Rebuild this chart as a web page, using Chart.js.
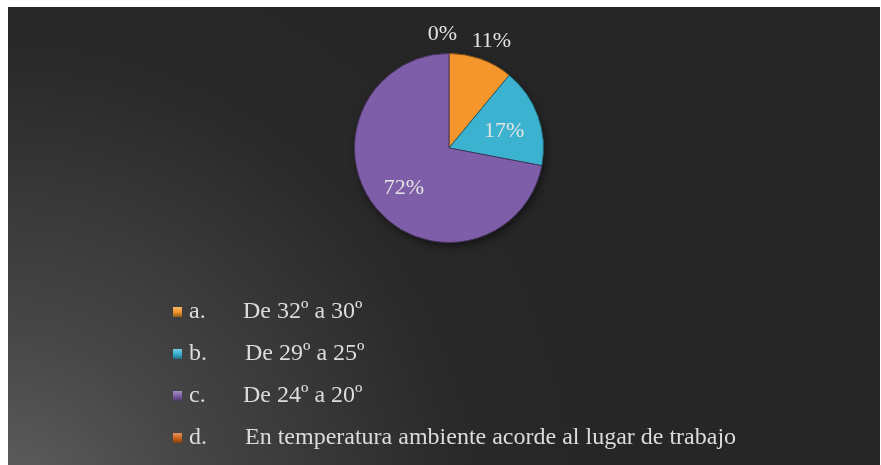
<!DOCTYPE html>
<html>
<head>
<meta charset="utf-8">
<script src="https://cdn.jsdelivr.net/npm/chart.js@4"></script>
<style>
  html, body { margin: 0; padding: 0; background: #fff; }
  #wrap { width: 881px; height: 465px; }
</style>
</head>
<body>
<div id="wrap"><canvas id="myChart" width="881" height="465"></canvas></div>
<script>
const letters = ['a.', 'b.', 'c.', 'd.'];
const categories = [
  'De 32º a 30º',
  'De 29º a 25º',
  'De 24º a 20º',
  'En temperatura ambiente acorde al lugar de trabajo',
];
const values = [11, 17, 72, 0];
const colors = ['#f4962c', '#3bb2cf', '#7f5ea9', '#d0641c'];

const ctx = document.getElementById('myChart');

// shade a hex colour by a factor (>1 lighter, <1 darker)
function shade(hex, f) {
  const n = parseInt(hex.slice(1), 16);
  const c = [(n >> 16) & 255, (n >> 8) & 255, n & 255].map((v) =>
    Math.max(0, Math.min(255, Math.round(f > 1 ? v + (255 - v) * (f - 1) : v * f)))
  );
  return `rgb(${c[0]},${c[1]},${c[2]})`;
}

const background = {
  id: 'background',
  beforeDraw(chart) {
    const c = chart.ctx;
    c.save();
    c.fillStyle = '#ffffff';
    c.fillRect(0, 0, chart.width, chart.height);
    const g = c.createRadialGradient(0, 520, 0, 0, 520, 620);
    g.addColorStop(0, '#626262');
    g.addColorStop(0.3, '#474747');
    g.addColorStop(0.75, '#292929');
    g.addColorStop(1, '#262626');
    c.fillStyle = g;
    c.fillRect(8, 7, 872, 458);
    c.restore();
  },
  beforeDatasetsDraw(chart) {
    // soft shadow under the pie
    const arc = chart.getDatasetMeta(0).data[0];
    if (!arc) return;
    const c = chart.ctx;
    c.save();
    c.shadowColor = 'rgba(0,0,0,0.6)';
    c.shadowBlur = 10;
    c.shadowOffsetX = 2;
    c.shadowOffsetY = 4;
    c.fillStyle = '#262626';
    c.beginPath();
    c.arc(arc.x, arc.y, arc.outerRadius - 1, 0, Math.PI * 2);
    c.fill();
    c.restore();
  },
};

const pctLabels = {
  id: 'pctLabels',
  afterDatasetsDraw(chart) {
    const c = chart.ctx;
    const meta = chart.getDatasetMeta(0);
    c.save();
    c.font = '22px "Liberation Serif", "Times New Roman", serif';
    c.fillStyle = '#e4e4e4';
    c.textBaseline = 'middle';
    meta.data.forEach((arc, i) => {
      const v = values[i];
      const mid = (arc.startAngle + arc.endAngle) / 2;
      const outside = v < 15;
      const f = outside ? 1.2 : 0.62;
      const x = arc.x + Math.cos(mid) * arc.outerRadius * f;
      const y = arc.y + Math.sin(mid) * arc.outerRadius * f;
      c.textAlign = v === 0 ? 'right' : 'center';
      if (v === 0) c.fillText(v + '%', x + 8, y);
      else if (outside) c.fillText(v + '%', x + 4, y);
      else c.fillText(v + '%', x, y + 3);
    });
    c.restore();
  },
};

const sideLegend = {
  id: 'sideLegend',
  afterDraw(chart) {
    const c = chart.ctx;
    c.save();
    c.font = '24px "Liberation Serif", "Times New Roman", serif';
    c.textBaseline = 'middle';
    categories.forEach((label, i) => {
      const y = 312 + i * 42;
      const col = colors[i];
      const g = c.createLinearGradient(0, y - 5, 0, y + 5);
      g.addColorStop(0, shade(col, 1.3));
      g.addColorStop(0.5, col);
      g.addColorStop(1, shade(col, 0.6));
      c.fillStyle = g;
      c.fillRect(173, y - 5, 9, 10);
      c.fillStyle = '#dcdcdc';
      c.textAlign = 'left';
      c.fillText(letters[i], 189, y);
      c.fillText(label, i === 0 || i === 2 ? 243 : 245, y);
    });
    c.restore();
  },
};

new Chart(ctx, {
  type: 'pie',
  data: {
    labels: categories,
    datasets: [
      {
        data: values,
        backgroundColor: (context) => {
          const chart = context.chart;
          const col = colors[context.dataIndex];
          const arc = chart.getDatasetMeta(0).data[context.dataIndex];
          if (!arc || !arc.outerRadius) return col;
          const g = chart.ctx.createRadialGradient(
            arc.x - 20, arc.y - 25, 0, arc.x, arc.y, arc.outerRadius
          );
          g.addColorStop(0, shade(col, 1.08));
          g.addColorStop(0.85, col);
          g.addColorStop(0.95, shade(col, 0.85));
          g.addColorStop(1, shade(col, 0.7));
          return g;
        },
        borderColor: (context) => shade(colors[context.dataIndex], 0.55),
        borderWidth: 1,
      },
    ],
  },
  options: {
    responsive: false,
    animation: false,
    rotation: 0,
    layout: {
      padding: { top: 53, bottom: 222, left: 354, right: 337 },
    },
    plugins: {
      legend: { display: false },
      tooltip: { enabled: false },
    },
  },
  plugins: [background, pctLabels, sideLegend],
});
</script>
</body>
</html>
